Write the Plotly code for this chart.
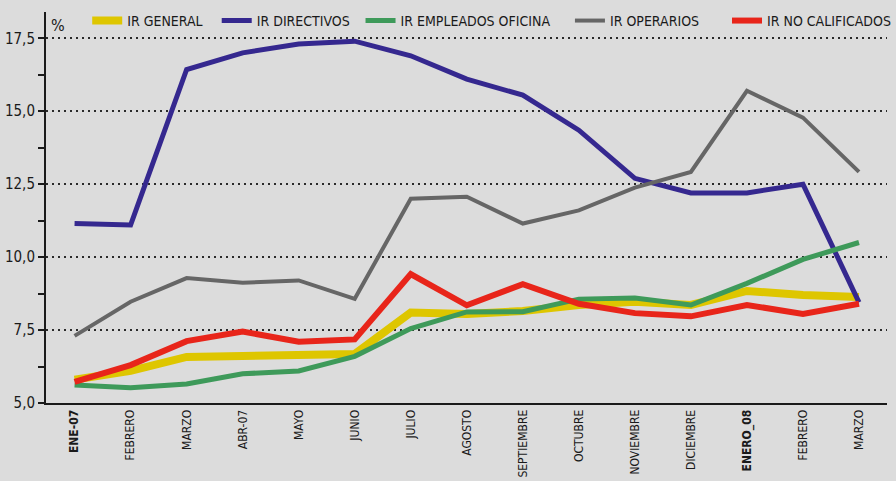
import plotly.graph_objects as go

months = ["ENE-07", "FEBRERO", "MARZO", "ABR-07", "MAYO", "JUNIO", "JULIO", "AGOSTO",
          "SEPTIEMBRE", "OCTUBRE", "NOVIEMBRE", "DICIEMBRE", "ENERO_08", "FEBRERO", "MARZO"]
bold_months = ["ENE-07", "ENERO_08"]

ir_general = [5.8, 6.1, 6.58, 6.6, 6.6, 6.68, 8.1, 8.05, 8.15, 8.36, 8.47, 8.36, 8.84, 8.7, 8.63]
ir_directivos = [11.15, 11.1, 16.43, 17.0, 17.3, 17.4, 16.9, 16.1, 15.55, 14.35, 12.7, 12.2, 12.2, 12.5, 8.45]
ir_empleados = [5.62, 5.52, 5.65, 6.0, 6.1, 6.6, 7.55, 8.12, 8.13, 8.56, 8.6, 8.36, 9.1, 9.92, 10.5]
ir_operarios = [7.3, 8.47, 9.28, 9.12, 9.2, 8.57, 12.0, 12.07, 11.15, 11.6, 12.38, 12.92, 15.7, 14.78, 12.92]
ir_no_calificados = [5.72, 6.3, 7.12, 7.45, 7.1, 7.18, 9.42, 8.35, 9.07, 8.4, 8.08, 7.97, 8.36, 8.05, 8.4]

y_ticks = [5.0, 7.5, 10.0, 12.5, 15.0, 17.5]
y_tick_labels = ["5,0", "7,5", "10,0", "12,5", "15,0", "17,5"]

series = [
    ("IR GENERAL", ir_general, "#DEC600", 8),
    ("IR DIRECTIVOS", ir_directivos, "#35288F", 5),
    ("IR EMPLEADOS OFICINA", ir_empleados, "#3E9A5A", 5),
    ("IR OPERARIOS", ir_operarios, "#666666", 4),
    ("IR NO CALIFICADOS", ir_no_calificados, "#E8251A", 6),
]
# horizontal placement of each legend entry (fraction of plot width)
legend_x = [0.049, 0.203, 0.374, 0.623, 0.81]

FONT = "Liberation Sans Narrow, Arial Narrow, DejaVu Sans Condensed, sans-serif"
x = list(range(len(months)))

fig = go.Figure()
legend_layout = {}
for i, (name, vals, color, width) in enumerate(series):
    key = "legend" if i == 0 else f"legend{i + 1}"
    fig.add_trace(go.Scatter(x=x, y=vals, mode="lines", name=name, legend=key,
                             line=dict(color=color, width=width)))
    legend_layout[key] = dict(orientation="h", x=legend_x[i], y=1.018,
                              xanchor="left", yanchor="top",
                              bgcolor="rgba(0,0,0,0)",
                              font=dict(size=14, family=FONT, color="#1a1a1a"))

ticktext = [f"<b>{m}</b>" if m in bold_months else m for m in months]

fig.update_layout(
    width=896, height=481,
    paper_bgcolor="#DCDCDC", plot_bgcolor="#DCDCDC",
    margin=dict(l=46, r=0, t=12, b=78, pad=0),
    font=dict(family=FONT, size=15, color="#1a1a1a"),
    showlegend=True,
    xaxis=dict(range=[-0.51, 14.5], tickmode="array", tickvals=x, ticktext=ticktext,
               tickangle=-90, showgrid=False, zeroline=False, showline=True,
               linecolor="#1a1a1a", linewidth=2, ticks="", automargin=False,
               tickfont=dict(size=12, family=FONT)),
    yaxis=dict(range=[5, 18.4], tickmode="array", tickvals=y_ticks, ticktext=y_tick_labels,
               showgrid=True, gridcolor="#2a2a2a", griddash="2px,4px", gridwidth=1.5,
               zeroline=False, showline=True, linecolor="#1a1a1a", linewidth=2,
               ticks="outside", ticklen=6, tickcolor="#1a1a1a", tickwidth=1.5,
               automargin=False,
               minor=dict(tickmode="linear", tick0=5, dtick=1.25, ticks="outside",
                          ticklen=6, tickcolor="#1a1a1a", tickwidth=1.5, showgrid=False),
               tickfont=dict(size=15, family=FONT)),
    **legend_layout,
)

fig.add_annotation(text="%", xref="paper", yref="y", x=0.003, y=17.95,
                   xanchor="left", yanchor="middle", showarrow=False,
                   font=dict(size=16, family=FONT))

fig.write_html("out.html", config={"displayModeBar": False},
               post_script="document.body.style.margin='0';")
